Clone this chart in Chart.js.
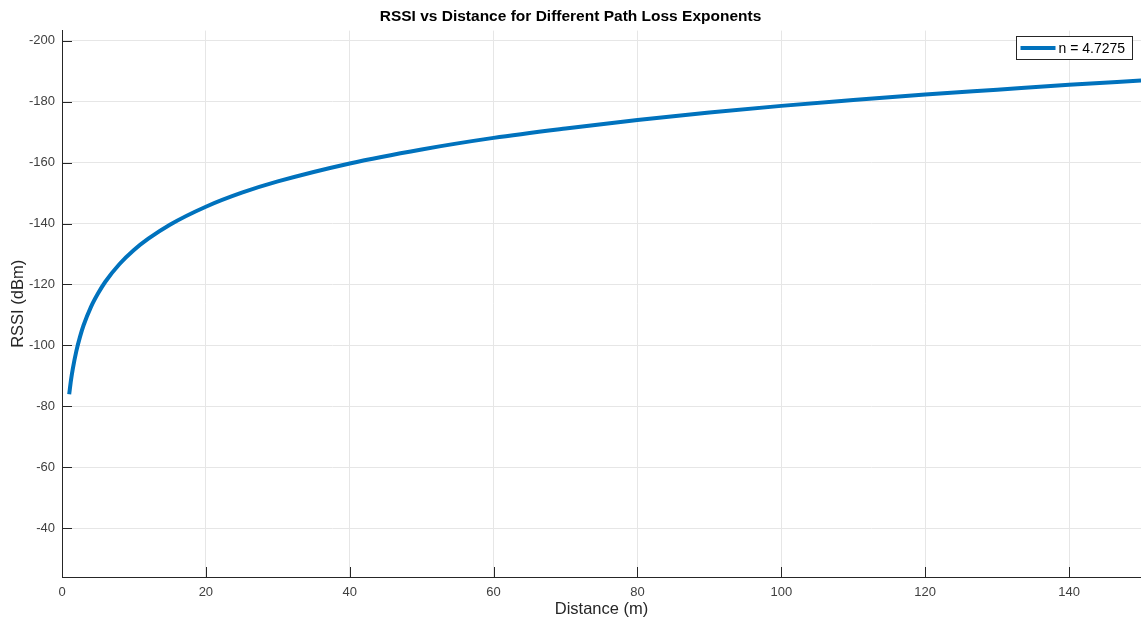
<!DOCTYPE html>
<html>
<head>
<meta charset="utf-8">
<title>RSSI vs Distance</title>
<script src="https://cdn.jsdelivr.net/npm/chart.js@4.4.1/dist/chart.umd.min.js"></script>
<style>
  html, body { margin: 0; padding: 0; background: #fff; }
  #rssi { display: block; }
</style>
</head>
<body>
<canvas id="rssi" width="1141" height="626"></canvas>
<script>
// distance samples (m) and measured RSSI (dBm) for n = 4.7275
const distances = [1, 1.25, 1.5, 2, 2.5, 3, 4, 5, 6, 8, 10, 12, 15, 20, 25, 30, 40, 50, 60, 70, 80, 90, 100, 110, 120, 130, 140, 150];
const rssi = [-84.0, -88.6, -92.3, -98.2, -102.8, -106.6, -112.5, -117.0, -120.8, -126.7, -131.3, -135.0, -139.6, -145.5, -150.1, -153.8, -159.7, -164.3, -168.1, -171.2, -174.0, -176.4, -178.6, -180.5, -182.3, -183.9, -185.5, -186.9];
const seriesLabel = 'n = 4.7275';

const xTicks = [0, 20, 40, 60, 80, 100, 120, 140];
const yTicks = [-200, -180, -160, -140, -120, -100, -80, -60, -40];

const axisColor = '#262626';
const gridColor = '#e6e6e6';
const lineColor = '#0072bd';
const font = 'Liberation Sans, Arial, Helvetica, sans-serif';

// MATLAB-style inward tick marks and the boxed legend in the top-right corner
const matlabAxes = {
  id: 'matlabAxes',
  afterDraw(chart) {
    const { ctx, chartArea: a, scales } = chart;
    ctx.save();
    ctx.strokeStyle = axisColor;
    ctx.lineWidth = 1;
    ctx.beginPath();
    scales.x.ticks.forEach(t => {
      const px = Math.round(scales.x.getPixelForValue(t.value)) + 0.5;
      ctx.moveTo(px, a.bottom);
      ctx.lineTo(px, a.bottom - 10);
    });
    scales.y.ticks.forEach(t => {
      const py = Math.round(scales.y.getPixelForValue(t.value)) + 0.5;
      ctx.moveTo(a.left, py);
      ctx.lineTo(a.left + 10, py);
    });
    ctx.stroke();

    // legend
    const bx = 1016.5, by = 36.5, bw = 116, bh = 23;
    ctx.fillStyle = '#fff';
    ctx.fillRect(bx, by, bw, bh);
    ctx.strokeStyle = axisColor;
    ctx.strokeRect(bx, by, bw, bh);
    ctx.strokeStyle = lineColor;
    ctx.lineWidth = 4;
    ctx.beginPath();
    ctx.moveTo(bx + 4, by + bh / 2);
    ctx.lineTo(bx + 39, by + bh / 2);
    ctx.stroke();
    ctx.fillStyle = '#000';
    ctx.font = '14px ' + font;
    ctx.textBaseline = 'middle';
    ctx.fillText(chart.data.datasets[0].label, bx + 42, by + bh / 2 + 1);
    ctx.restore();
  }
};

new Chart(document.getElementById('rssi'), {
  type: 'line',
  data: {
    datasets: [{
      label: seriesLabel,
      data: distances.map((d, i) => ({ x: d, y: rssi[i] })),
      borderColor: lineColor,
      borderWidth: 4,
      pointRadius: 0,
      cubicInterpolationMode: 'monotone',
      fill: false
    }]
  },
  options: {
    responsive: false,
    animation: false,
    layout: { padding: 0 },
    plugins: {
      legend: { display: false },
      tooltip: { enabled: false },
      title: {
        display: true,
        text: 'RSSI vs Distance for Different Path Loss Exponents',
        color: '#000',
        font: { family: font, size: 15.5, weight: 'bold' },
        padding: { top: 7, bottom: 5 }
      }
    },
    scales: {
      x: {
        type: 'linear',
        min: 0,
        max: 150,
        afterBuildTicks: s => { s.ticks = xTicks.map(v => ({ value: v })); },
        afterFit: s => { s.height = 49; },
        ticks: {
          color: '#404040',
          padding: 8,
          maxRotation: 0,
          font: { family: font, size: 13 }
        },
        grid: { color: gridColor, drawTicks: false },
        border: { color: axisColor, width: 1 },
        title: {
          display: true,
          text: 'Distance (m)',
          color: '#262626',
          font: { family: font, size: 16.5 },
          padding: { top: 0, bottom: 7 }
        }
      },
      y: {
        type: 'linear',
        reverse: true,
        min: -203.3,
        max: -24,
        afterBuildTicks: s => { s.ticks = yTicks.map(v => ({ value: v })); },
        afterFit: s => { s.width = 62; },
        ticks: {
          color: '#404040',
          padding: 7,
          font: { family: font, size: 13 }
        },
        grid: { color: gridColor, drawTicks: false },
        border: { color: axisColor, width: 1 },
        title: {
          display: true,
          text: 'RSSI (dBm)',
          color: '#262626',
          font: { family: font, size: 16.5 },
          padding: { top: 9, bottom: 0 }
        }
      }
    }
  },
  plugins: [matlabAxes]
});
</script>
</body>
</html>
